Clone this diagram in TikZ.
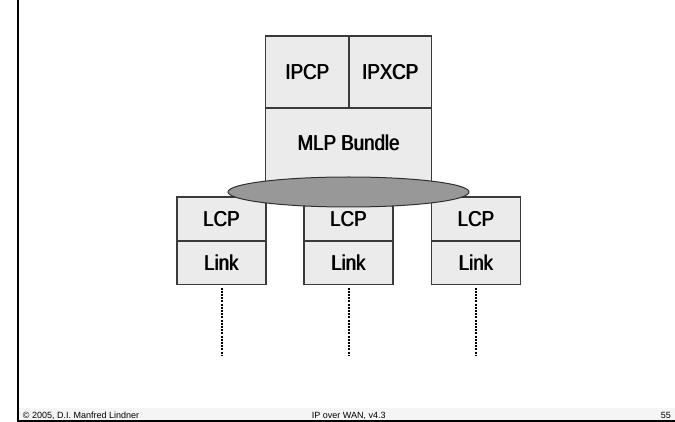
\documentclass[tikz,border=0pt]{standalone}
\usepackage{fontspec}
\setmainfont{Liberation Sans}
\newfontfamily\narrowsans[FakeStretch=0.87]{Liberation Sans}
\usetikzlibrary{shapes.geometric}

\definecolor{boxfill}{HTML}{EBEBEB}
\definecolor{boxline}{HTML}{3A3A3A}
\definecolor{ellfill}{HTML}{989898}
\definecolor{ellline}{HTML}{303030}
\definecolor{footband}{HTML}{F5F5F5}

\newcommand{\cellfont}{\narrowsans\fontsize{21.5}{21.5}\selectfont}
\newcommand{\footfont}{\fontsize{9}{10}\selectfont}
% slightly heavier strokes: print the label twice with a small offset
\newcommand{\heavy}[1]{\rlap{#1}\kern0.8pt\relax#1}

\begin{document}
\begin{tikzpicture}[x=1pt,y=-1pt,
  cell/.style={draw=boxline,fill=boxfill,line width=1.3pt,inner sep=0pt,
               font=\cellfont,text=black},
  lcpcell/.style={cell,minimum width=89pt,minimum height=44pt},
  linkcell/.style={cell,minimum width=89pt,minimum height=43.5pt},
  dotline/.style={line width=2pt,dash pattern=on 2pt off 1.2pt,
                  shorten <=2.5pt},
  foot/.style={inner sep=0pt,font=\footfont}]
\useasboundingbox (0,0) rectangle (675,422);

% slide frame and footer band
\fill[footband] (18,408) rectangle (675,421);
\draw[line width=2pt] (17.7,0) -- (17.7,421);
\draw[line width=1.5pt] (16.7,421) -- (675,421);

% protocol stack of the bundle
\node[cell,minimum width=166pt,minimum height=84pt,
      label={[font=\cellfont,yshift=7pt]center:\heavy{MLP Bundle}}] (mlp) at (348.7,150) {};
\node[cell,minimum width=83.3pt,minimum height=72pt] (ipcp) at (307.3,72) {\heavy{IPCP}};
\node[cell,minimum width=82.7pt,minimum height=72pt] (ipxcp) at (390.3,72) {\heavy{IPXCP}};

% member links
\node[lcpcell]  (lcpA)  at (221.5,219)    {\heavy{LCP}};
\node[linkcell] (linkA) at (221.5,262.75) {\heavy{Link}};
\node[lcpcell]  (lcpB)  at (348.5,219)    {\heavy{LCP}};
\node[linkcell] (linkB) at (348.5,262.75) {\heavy{Link}};
\node[lcpcell]  (lcpC)  at (476,219)      {\heavy{LCP}};
\node[linkcell] (linkC) at (476,262.75)   {\heavy{Link}};

% bundle ellipse joining the links
\node[ellipse,draw=ellline,fill=ellfill,line width=1pt,inner sep=0pt,
      minimum width=241pt,minimum height=30pt] (bundle) at (348.5,192) {};

% physical lines
\coordinate (endA) at (221.5,355);
\coordinate (endB) at (348.5,355);
\coordinate (endC) at (476,355);
\draw[dotline] (linkA.south) -- (endA);
\draw[dotline] (linkB.south) -- (endB);
\draw[dotline] (linkC.south) -- (endC);

% footer
\node[foot,anchor=base west] (copy)  at (22.7,418) {© 2005, D.I. Manfred Lindner};
\node[foot,anchor=base west] (title) at (311.7,418) {IP over WAN, v4.3};
\node[foot,anchor=base east] (page)  at (671,418) {55};
\end{tikzpicture}
\end{document}
